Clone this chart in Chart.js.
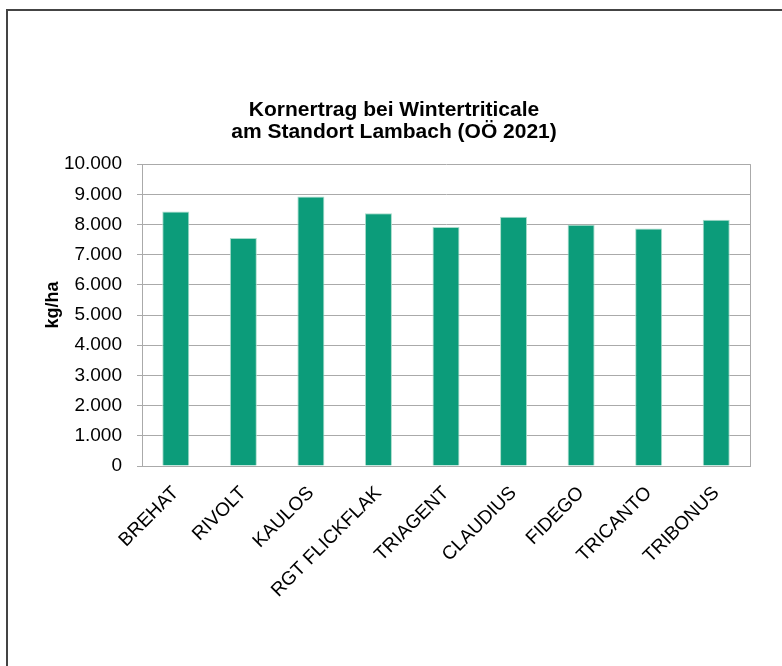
<!DOCTYPE html>
<html>
<head>
<meta charset="utf-8">
<title>Kornertrag bei Wintertriticale</title>
<script src="https://cdn.jsdelivr.net/npm/chart.js@4.4.1/dist/chart.umd.min.js"></script>
<style>
  body { margin: 0; background: #fff; }
  #frame { position: absolute; left: 6px; top: 9px; width: 800px; height: 700px; border: 2px solid #444; }
  #wrap { position: absolute; left: 8px; top: 11px; width: 774px; height: 655px; }
</style>
</head>
<body>
<div id="frame"></div>
<div id="wrap"><canvas id="myChart"></canvas></div>
<script>
const sorten = ["BREHAT", "RIVOLT", "KAULOS", "RGT FLICKFLAK", "TRIAGENT", "CLAUDIUS", "FIDEGO", "TRICANTO", "TRIBONUS"];
const ertrag = [8430, 7550, 8930, 8370, 7920, 8260, 7990, 7870, 8160];
const titel = ["Kornertrag bei Wintertriticale", "am Standort Lambach (OÖ 2021)"];
const yTicks = [0, 1000, 2000, 3000, 4000, 5000, 6000, 7000, 8000, 9000, 10000];

const fontFamily = "'Liberation Sans', Arial, Helvetica, sans-serif";

// 1000 -> "1.000"
function formatDe(v) {
  return String(v).replace(/\B(?=(\d{3})+(?!\d))/g, ".");
}

// right edge of the plot frame
const areaBorder = {
  id: "areaBorder",
  afterDraw(chart) {
    const { ctx, chartArea } = chart;
    ctx.save();
    ctx.strokeStyle = "#aaaaaa";
    ctx.lineWidth = 1;
    ctx.beginPath();
    ctx.moveTo(Math.round(chartArea.right) + 0.5, chartArea.top);
    ctx.lineTo(Math.round(chartArea.right) + 0.5, chartArea.bottom);
    ctx.stroke();
    ctx.restore();
  },
};

new Chart(document.getElementById("myChart"), {
  type: "bar",
  data: {
    labels: sorten,
    datasets: [
      {
        label: "Kornertrag",
        data: ertrag,
        backgroundColor: "#0c9c7a",
        borderColor: "#a9dccb",
        borderWidth: 1,
        borderSkipped: "bottom",
        barPercentage: 0.4,
        categoryPercentage: 1.0,
      },
    ],
  },
  options: {
    responsive: true,
    maintainAspectRatio: false,
    animation: false,
    layout: { padding: { left: 30, right: 32, top: 0, bottom: 0 } },
    plugins: {
      legend: { display: false },
      tooltip: { enabled: false },
      title: {
        display: true,
        text: titel,
        color: "#000",
        font: { family: fontFamily, size: 21, weight: "bold", lineHeight: 1.05 },
        padding: { top: 88, bottom: 21 },
      },
    },
    scales: {
      x: {
        grid: { display: false },
        border: { display: true, color: "#aaaaaa", width: 1 },
        ticks: {
          color: "#000",
          font: { family: fontFamily, size: 19 },
          maxRotation: 45,
          minRotation: 45,
          padding: 8,
          autoSkip: false,
        },
        afterFit(scale) {
          scale.height = 200;
        },
      },
      y: {
        min: 0,
        max: 10000,
        afterBuildTicks(scale) {
          scale.ticks = yTicks.map((v) => ({ value: v }));
        },
        grid: { color: "#aaaaaa", tickLength: 5, drawTicks: true },
        border: { display: true, color: "#aaaaaa", width: 1 },
        ticks: {
          color: "#000",
          font: { family: fontFamily, size: 19 },
          padding: 15,
          callback: (v) => formatDe(v),
        },
        title: {
          display: true,
          // leading spaces lift the label a little above the axis middle
          text: "    kg/ha",
          color: "#000",
          font: { family: fontFamily, size: 18, weight: "bold" },
          padding: { top: 4, bottom: 0 },
        },
        afterFit(scale) {
          scale.width = 104;
        },
      },
    },
  },
  plugins: [areaBorder],
});
</script>
</body>
</html>
